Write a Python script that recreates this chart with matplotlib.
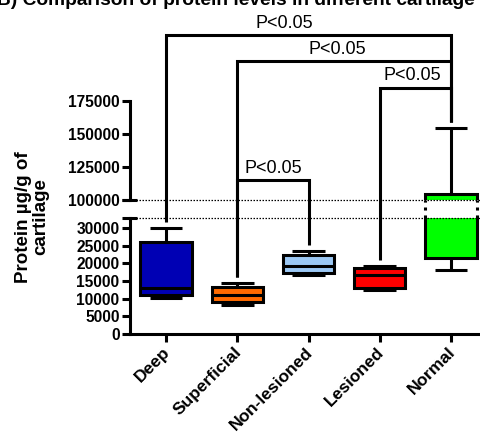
import matplotlib
matplotlib.use('Agg')
import matplotlib.pyplot as plt
import matplotlib.transforms as mtransforms
import numpy as np

plt.rcParams['font.family'] = ['Liberation Sans', 'DejaVu Sans']

# box statistics (protein, ug/g of cartilage)
groups = ['Deep', 'Superficial', 'Non-lesioned', 'Lesioned', 'Normal']
whisker_low = [10200, 8200, 16700, 12500, 18100]
q1 = [11000, 9000, 17300, 13000, 21500]
medians = [13100, 11000, 19300, 16700, 60000]
q3 = [26000, 13200, 22200, 18700, 104500]
whisker_high = [30000, 14400, 23500, 19200, 154500]
box_colors = ['#0000b4', '#ff6a00', '#9cc8f4', '#ff0000', '#00ff00']

# significance brackets: (left group, right group, bracket height, label x)
brackets = [(0, 4, 225000, 1.66), (1, 4, 205000, 2.41),
            (3, 4, 185000, 3.45), (1, 2, 115000, 1.51)]
p_label = 'P<0.05'

lower_ticks = np.arange(0, 30001, 5000)
upper_ticks = [100000, 125000, 150000, 175000]
lower_lim = (0, 32800)
upper_lim = (100000, 175000)
x_lim = (-0.505, 4.42)

title = 'B) Comparison of protein levels in different cartilage'
ylabel = 'Protein \u00b5g/g of\ncartilage'

W, H = 481, 436
fig = plt.figure(figsize=(W / 100, H / 100), dpi=100)
left = 130 / W
ax_low = fig.add_axes([left, (H - 334) / H, 1 - left, 116 / H])
ax_up = fig.add_axes([left, (H - 200) / H, 1 - left, 99 / H])

stats = []
for i, g in enumerate(groups):
    stats.append({'label': g, 'whislo': whisker_low[i], 'q1': q1[i],
                  'med': medians[i], 'q3': q3[i], 'whishi': whisker_high[i],
                  'fliers': []})

lw = 2.2
for ax in (ax_low, ax_up):
    bp = ax.bxp(stats, positions=range(len(groups)), widths=0.72,
                capwidths=0.46, patch_artist=True, showfliers=False,
                boxprops=dict(linewidth=lw, edgecolor='black'),
                whiskerprops=dict(linewidth=lw, solid_capstyle='butt'),
                capprops=dict(linewidth=lw, solid_capstyle='butt'),
                medianprops=dict(color='black', linewidth=lw, solid_capstyle='butt'))
    for patch, c in zip(bp['boxes'], box_colors):
        patch.set_facecolor(c)
    ax.set_xlim(*x_lim)
    ax.spines['top'].set_visible(False)
    ax.spines['right'].set_visible(False)
    ax.spines['left'].set_linewidth(lw)
    ax.spines['bottom'].set_linewidth(lw)
    ax.tick_params(axis='y', length=6, width=lw, pad=1.5, labelsize=11.2)

ax_low.set_ylim(*lower_lim)
ax_low.set_yticks(lower_ticks)
ax_low.set_yticklabels([str(v) for v in lower_ticks], fontweight='bold')
ax_low.set_xticks(range(len(groups)))
ax_low.set_xticklabels(groups, rotation=45, ha='right', rotation_mode='anchor',
                       fontweight='bold', fontsize=12.5)
ax_low.tick_params(axis='x', length=6, width=lw, pad=3)
shift = mtransforms.ScaledTranslation(-0.035, 0.02, fig.dpi_scale_trans)
for lab in ax_low.get_xticklabels():
    lab.set_transform(lab.get_transform() + shift)

ax_up.set_ylim(*upper_lim)
ax_up.set_yticks(upper_ticks)
ax_up.set_yticklabels([str(v) for v in upper_ticks], fontweight='bold')
ax_up.spines['bottom'].set_visible(False)
ax_up.set_xticks([])
ax_up.patch.set_alpha(0)

# dotted break lines across the plot
ax_up.axhline(upper_lim[0], color='black', lw=0.9, ls=(0, (1.2, 1.2)), clip_on=False, zorder=6)
ax_low.axhline(lower_lim[1], color='black', lw=0.9, ls=(0, (1.2, 1.2)), clip_on=False, zorder=6)

# break stubs on the y axis
axw = ax_up.get_position().width * W
for ax, yy in ((ax_up, 0), (ax_low, 1)):
    ax.plot([-8 / axw, 7 / axw], [yy, yy], transform=ax.transAxes, color='black',
            lw=lw, clip_on=False, solid_capstyle='butt')

inv_up = ax_up.transData.inverted()


def disp_y(v):
    ax = ax_low if v <= lower_lim[1] else ax_up
    return ax.transData.transform((0, v))[1]


def to_up(ydisp):
    return inv_up.transform((0, ydisp))[1]


# dotted box edges of Normal inside the gap
low_top = to_up(disp_y(lower_lim[1]))
for xe in (4 - 0.36, 4 + 0.36):
    ax_up.plot([xe, xe], [low_top, upper_lim[0]], color='black', lw=lw,
               ls=(0, (1, 1.6)), clip_on=False, zorder=5)

# significance brackets
gap = 6
for a, b, h, tx in brackets:
    ya = to_up(disp_y(whisker_high[a]) + gap)
    yb = to_up(disp_y(whisker_high[b]) + gap)
    ax_up.plot([a, a, b, b], [ya, h, h, yb], color='black', lw=lw, clip_on=False,
               solid_joinstyle='miter', solid_capstyle='butt', zorder=7)
    ax_up.annotate(p_label, (tx, h), xytext=(0, 2.5), textcoords='offset points',
                   ha='center', va='bottom', fontsize=13, annotation_clip=False)

fig.text(32 / W, 1 - 217 / H, ylabel, rotation=90, ha='center', va='center',
         fontweight='bold', fontsize=13.5, linespacing=1.0)
fig.text(475 / W, 1 - 5 / H, title, ha='right', va='baseline',
         fontweight='bold', fontsize=13.8)

fig.savefig('out.png', dpi=100)
